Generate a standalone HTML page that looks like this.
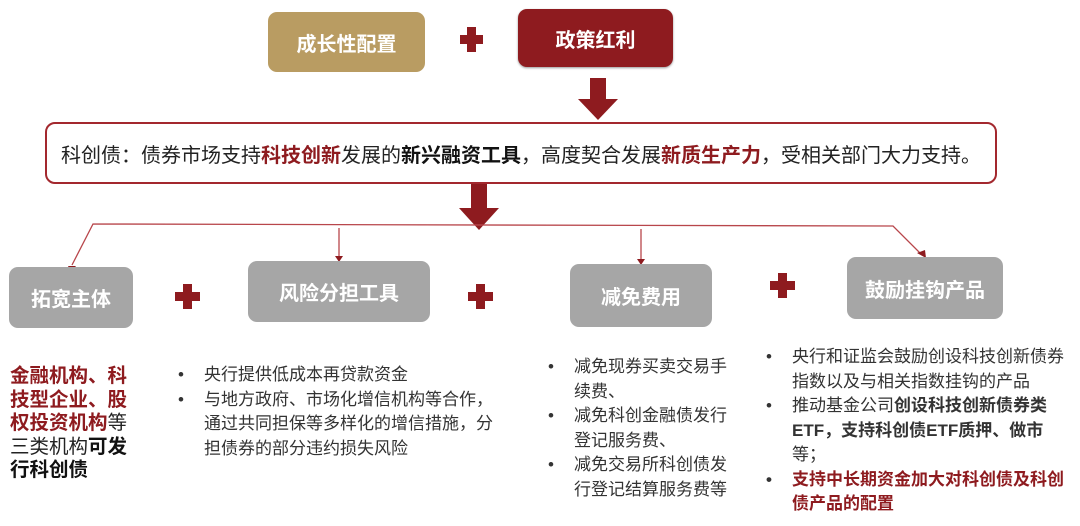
<!DOCTYPE html>
<html><head><meta charset="utf-8"><style>
body{margin:0;width:1080px;height:526px;background:#fff;position:relative;overflow:hidden;font-family:"Liberation Sans","Noto Sans CJK SC",sans-serif;}
.b{position:absolute;border-radius:9px;color:#fff;font-weight:bold;display:flex;align-items:center;justify-content:center;font-size:20px;}
.g{background:#a6a6a6;}
.t{position:absolute;font-size:17px;color:#333;line-height:24.5px;}
.t div{position:relative;padding-left:26px;}
.t div:before{content:"•";position:absolute;left:0;top:0;color:#333}
.r{color:#8e1b1f;font-weight:bold}
.k{font-weight:bold;color:#111}
svg{position:absolute;left:0;top:0}
</style></head><body>
<svg width="1080" height="526">
<g fill="#8e1b1f">
<rect x="467" y="27" width="9" height="25"/><rect x="460" y="35" width="23" height="9"/>
<rect x="590" y="78" width="16" height="22"/><polygon points="578,99 618,99 598,120"/>
<rect x="471" y="183" width="16" height="26"/><polygon points="459,208 499,208 479,230"/>
<rect x="183" y="284" width="9" height="25"/><rect x="175" y="292" width="25" height="9"/>
<rect x="476" y="284" width="9" height="25"/><rect x="468" y="292" width="25" height="9"/>
<rect x="778" y="273" width="9" height="25"/><rect x="770" y="281" width="25" height="9"/>
</g>
<g stroke="#b8464b" stroke-width="1.3" fill="none">
<polyline points="72,265 93,224 893,226 922,255"/>
<line x1="339" y1="228" x2="339" y2="258"/>
<line x1="641" y1="229" x2="641" y2="261"/>
</g>
<g fill="#8e1b1f">
<polygon points="68,266 76,266 71,272"/>
<polygon points="335,256 343,256 339,262"/>
<polygon points="637,259 645,259 641,265"/>
<polygon points="917,253 925,250 926,258"/>
</g>
</svg>
<div class="b" style="left:268px;top:12px;width:157px;height:60px;background:#b99c62;">成长性配置</div>
<div class="b" style="left:518px;top:9px;width:155px;height:58px;background:#8e1b1f;box-shadow:0 1px 2px #999;">政策红利</div>
<div style="position:absolute;left:45px;top:122px;border:2px solid #a3282e;border-radius:10px;display:flex;align-items:center;padding-left:14px;box-sizing:border-box;width:952px;height:62px;font-size:20px;color:#222;white-space:nowrap;">科创债：债券市场支持<span class="r">科技创新</span>发展的<span class="k">新兴融资工具</span>，高度契合发展<span class="r">新质生产力</span>，受相关部门大力支持。</div>
<div class="b g" style="left:9px;top:267px;width:124px;height:61px;">拓宽主体</div>
<div class="b g" style="left:248px;top:261px;width:182px;height:61px;">风险分担工具</div>
<div class="b g" style="left:570px;top:264px;width:142px;height:63px;">减免费用</div>
<div class="b g" style="left:847px;top:257px;width:156px;height:62px;">鼓励挂钩产品</div>
<div style="position:absolute;left:10px;top:365px;width:125px;font-size:19.5px;line-height:23.5px;color:#222;"><span class="r">金融机构、科技型企业、股权投资机构</span>等三类机构<span class="k">可发行科创债</span></div>
<div class="t" style="left:178px;top:363px;width:318px;"><div>央行提供低成本再贷款资金</div><div>与地方政府、市场化增信机构等合作，通过共同担保等多样化的增信措施，分担债券的部分违约损失风险</div></div>
<div class="t" style="left:548px;top:355px;width:184px;"><div>减免现券买卖交易手续费、</div><div>减免科创金融债发行登记服务费、</div><div>减免交易所科创债发行登记结算服务费等</div></div>
<div class="t" style="left:766px;top:345px;width:302px;"><div>央行和证监会鼓励创设科技创新债券指数以及与相关指数挂钩的产品</div><div>推动基金公司<b>创设科技创新债券类ETF，支持科创债ETF质押、做市</b>等；</div><div class="r" style="color:#8e1b1f">支持中长期资金加大对科创债及科创债产品的配置</div></div>
</body></html>
